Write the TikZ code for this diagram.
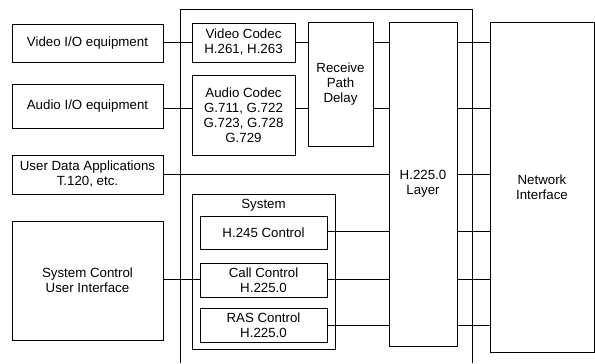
\documentclass[tikz,border=0pt]{standalone}
\usepackage{fontspec}
\setmainfont{Liberation Sans}
\begin{document}
\begin{tikzpicture}[x=1pt,y=-1pt,
  line width=0.7pt,
  font=\fontsize{13.3}{15}\selectfont,
  box/.style={draw, rectangle, inner sep=0pt, align=center},
  conn/.style={draw, line width=0.7pt}]
\useasboundingbox (0,0) rectangle (595,364);
\newcommand{\bx}[6][]{\node[box,#1,minimum width={(#4-#2)*1pt},minimum height={(#5-#3)*1pt}] (#6) at ({(#2+#4)/2},{(#3+#5)/2})}
% left boxes
\bx{12}{24}{163}{62}{vio} {Video I/O equipment};
\bx{12}{84}{163}{128}{aio} {Audio I/O equipment};
\bx{12}{155}{163}{194}{uda} {User Data Applications\\T.120, etc.};
\bx{12}{221}{163}{340}{sci} {System Control\\User Interface};
% frame
\draw (180,363) -- (180,9) -- (472,9) -- (472,363);
% inner boxes
\bx{192}{23}{295}{62}{vcod} {Video Codec\\H.261, H.263};
\bx{192}{75}{295}{155}{acod} {Audio Codec\\G.711, G.722\\G.723, G.728\\G.729};
\bx{308}{22}{373}{146}{rpd} {Receive\\Path\\Delay};
\bx{389}{22}{457}{346}{h225} {H.225.0\\Layer};
\bx{490}{22}{594}{352}{net} {Network\\Interface};
\bx{192}{194}{335}{349}{sys} {};
\node[anchor=center] (syslbl) at (263.5,205) {System};
\bx{200}{216}{327}{249}{h245} {H.245 Control};
\bx{200}{263}{327}{297}{call} {Call Control\\H.225.0};
\bx{200}{308}{327}{342}{ras} {RAS Control\\H.225.0};
% row coordinates
\coordinate (r1) at (0,42.5);
\coordinate (r2) at (0,108);
\coordinate (r3) at (0,174.5);
\coordinate (r4) at (0,231.5);
\coordinate (r5) at (0,279.5);
\coordinate (r6) at (0,325);
% connectors
\draw[conn] (vio.east |- r1) -- (vcod.west |- r1);
\draw[conn] (aio.east |- r2) -- (acod.west |- r2);
\draw[conn] (vcod.east |- r1) -- (rpd.west |- r1);
\draw[conn] (acod.east |- r2) -- (rpd.west |- r2);
\draw[conn] (rpd.east |- r1) -- (h225.west |- r1);
\draw[conn] (rpd.east |- r2) -- (h225.west |- r2);
\draw[conn] (uda.east |- r3) -- (h225.west |- r3);
\draw[conn] (sci.east |- r5) -- (call.west |- r5);
\draw[conn] (h245.east |- r4) -- (h225.west |- r4);
\draw[conn] (call.east |- r5) -- (h225.west |- r5);
\draw[conn] (ras.east |- r6) -- (h225.west |- r6);
\foreach \r in {r1,r2,r3,r4,r5,r6}
  \draw[conn] (h225.east |- \r) -- (net.west |- \r);
\end{tikzpicture}
\end{document}
